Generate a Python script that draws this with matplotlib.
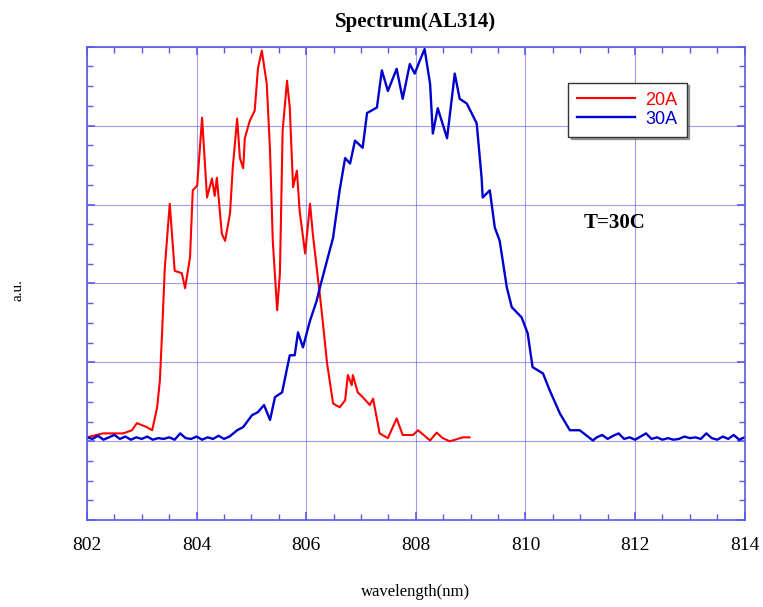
import matplotlib
matplotlib.use('Agg')
import matplotlib.pyplot as plt
from matplotlib.ticker import MultipleLocator, NullFormatter

# 20A spectrum (wavelength nm, a.u.)
red_x = [802.00, 802.29, 802.47, 802.66, 802.82, 802.91, 803.09, 803.19, 803.28, 803.33,
         803.37, 803.42, 803.51, 803.60, 803.73, 803.79, 803.88, 803.93, 804.01, 804.10,
         804.19, 804.28, 804.33, 804.37, 804.46, 804.52, 804.61, 804.66, 804.74, 804.79,
         804.85, 804.88, 804.97, 805.06, 805.12, 805.19, 805.28, 805.34, 805.39, 805.47,
         805.52, 805.57, 805.65, 805.70, 805.76, 805.83, 805.88, 805.98, 806.07, 806.12,
         806.25, 806.30, 806.38, 806.49, 806.61, 806.71, 806.76, 806.83, 806.85, 806.94,
         807.03, 807.16, 807.22, 807.34, 807.49, 807.65, 807.76, 807.95, 808.04, 808.26,
         808.38, 808.49, 808.62, 808.86, 808.98]
red_y = [0.05, 0.10, 0.10, 0.10, 0.14, 0.23, 0.18, 0.14, 0.43, 0.77,
         1.37, 2.20, 3.01, 2.16, 2.13, 1.94, 2.33, 3.18, 3.24, 4.10,
         3.09, 3.33, 3.11, 3.34, 2.63, 2.54, 2.89, 3.47, 4.09, 3.59,
         3.46, 3.84, 4.06, 4.19, 4.73, 4.95, 4.53, 3.68, 2.54, 1.66,
         2.13, 3.94, 4.57, 4.23, 3.22, 3.43, 2.92, 2.38, 3.01, 2.63,
         1.85, 1.53, 0.99, 0.48, 0.43, 0.52, 0.84, 0.71, 0.84, 0.62,
         0.56, 0.46, 0.54, 0.10, 0.04, 0.29, 0.08, 0.08, 0.14, 0.01,
         0.11, 0.04, 0.00, 0.05, 0.05]

# 30A spectrum
blue_x = [802.00, 802.10, 802.20, 802.30, 802.40, 802.50, 802.60, 802.70, 802.80, 802.90,
          803.00, 803.10, 803.20, 803.30, 803.40, 803.50, 803.60, 803.70, 803.80, 803.90,
          804.00, 804.10, 804.20, 804.30, 804.40, 804.50, 804.60, 804.74, 804.85, 805.01,
          805.12, 805.23, 805.34, 805.43, 805.56, 805.70, 805.79, 805.85, 805.94, 806.07,
          806.19, 806.25, 806.49, 806.61, 806.71, 806.80, 806.89, 807.03, 807.11, 807.29,
          807.38, 807.49, 807.65, 807.76, 807.89, 807.98, 808.07, 808.16, 808.26, 808.31,
          808.40, 808.57, 808.71, 808.80, 808.93, 809.11, 809.20, 809.22, 809.35, 809.44,
          809.53, 809.66, 809.75, 809.93, 810.04, 810.13, 810.32, 810.44, 810.63, 810.81,
          810.99, 811.23, 811.30, 811.40, 811.50, 811.60, 811.70, 811.80, 811.90, 812.00,
          812.10, 812.20, 812.30, 812.40, 812.50, 812.60, 812.70, 812.80, 812.90, 813.00,
          813.10, 813.20, 813.30, 813.40, 813.50, 813.60, 813.70, 813.80, 813.90, 814.00]
blue_y = [0.05, 0.03, 0.07, 0.02, 0.05, 0.08, 0.03, 0.06, 0.02, 0.05,
          0.03, 0.06, 0.02, 0.04, 0.03, 0.05, 0.02, 0.10, 0.04, 0.03,
          0.06, 0.02, 0.05, 0.03, 0.07, 0.03, 0.06, 0.14, 0.18, 0.33,
          0.37, 0.46, 0.27, 0.56, 0.62, 1.09, 1.09, 1.38, 1.19, 1.53,
          1.78, 1.95, 2.58, 3.18, 3.59, 3.52, 3.81, 3.72, 4.16, 4.23,
          4.70, 4.44, 4.72, 4.34, 4.78, 4.66, 4.82, 4.97, 4.53, 3.90,
          4.22, 3.84, 4.66, 4.34, 4.28, 4.03, 3.34, 3.09, 3.18, 2.71,
          2.54, 1.95, 1.70, 1.57, 1.37, 0.94, 0.86, 0.65, 0.35, 0.14,
          0.14, 0.01, 0.05, 0.08, 0.03, 0.07, 0.10, 0.03, 0.05, 0.02,
          0.06, 0.10, 0.03, 0.05, 0.02, 0.04, 0.02, 0.03, 0.06, 0.04,
          0.05, 0.03, 0.10, 0.04, 0.02, 0.06, 0.03, 0.08, 0.02, 0.05]

serif = ['Liberation Serif', 'DejaVu Serif']
sans = ['Liberation Sans', 'DejaVu Sans']
axis_blue = '#5a5ae6'

fig = plt.figure(figsize=(7.63, 6.07), dpi=100)
ax = fig.add_axes([0.114, 0.143, 0.862, 0.78])

ax.plot(red_x, red_y, color='#ff0000', lw=1.5, label='20A')
ax.plot(blue_x, blue_y, color='#0000cc', lw=1.7, label='30A')

ax.set_xlim(802, 814)
ax.set_ylim(-1, 5)
ax.xaxis.set_major_locator(MultipleLocator(2))
ax.xaxis.set_minor_locator(MultipleLocator(0.5))
ax.yaxis.set_major_locator(MultipleLocator(1))
ax.yaxis.set_minor_locator(MultipleLocator(0.25))
ax.yaxis.set_major_formatter(NullFormatter())
ax.tick_params(which='both', direction='in', top=True, right=True, color=axis_blue)
ax.tick_params(which='major', length=6, width=1.2, labelsize=14, pad=12)
ax.tick_params(which='minor', length=4, width=1)
for lab in ax.get_xticklabels():
    lab.set_family(serif)
for sp in ax.spines.values():
    sp.set_color(axis_blue)
    sp.set_linewidth(1.2)
ax.grid(True, which='major', color='#5a5ae6', lw=0.8, alpha=0.6)

ax.set_title('Spectrum(AL314)', family=serif, fontsize=15, fontweight='bold', pad=14)
ax.set_xlabel('wavelength(nm)', family=serif, fontsize=12, labelpad=22)
fig.text(18 / 763, 1 - 290 / 607, 'a.u.', family=serif, fontsize=11,
         rotation=90, ha='center', va='center')

ax.text(811.06, 2.77, 'T=30C', family=serif, fontsize=15, fontweight='bold',
        va='center', ha='left')

leg = ax.legend(loc='upper left', bbox_to_anchor=(0.731, 0.924), borderaxespad=0,
                frameon=True, shadow=True, fancybox=False,
                prop={'family': sans, 'size': 13},
                handlelength=3.2, handletextpad=0.6, labelspacing=0.1, borderpad=0.5)
leg.get_frame().set_edgecolor('#333333')
leg.get_frame().set_linewidth(1)
for txt, line in zip(leg.get_texts(), leg.get_lines()):
    txt.set_color(line.get_color())

fig.savefig('out.png', dpi=100)
